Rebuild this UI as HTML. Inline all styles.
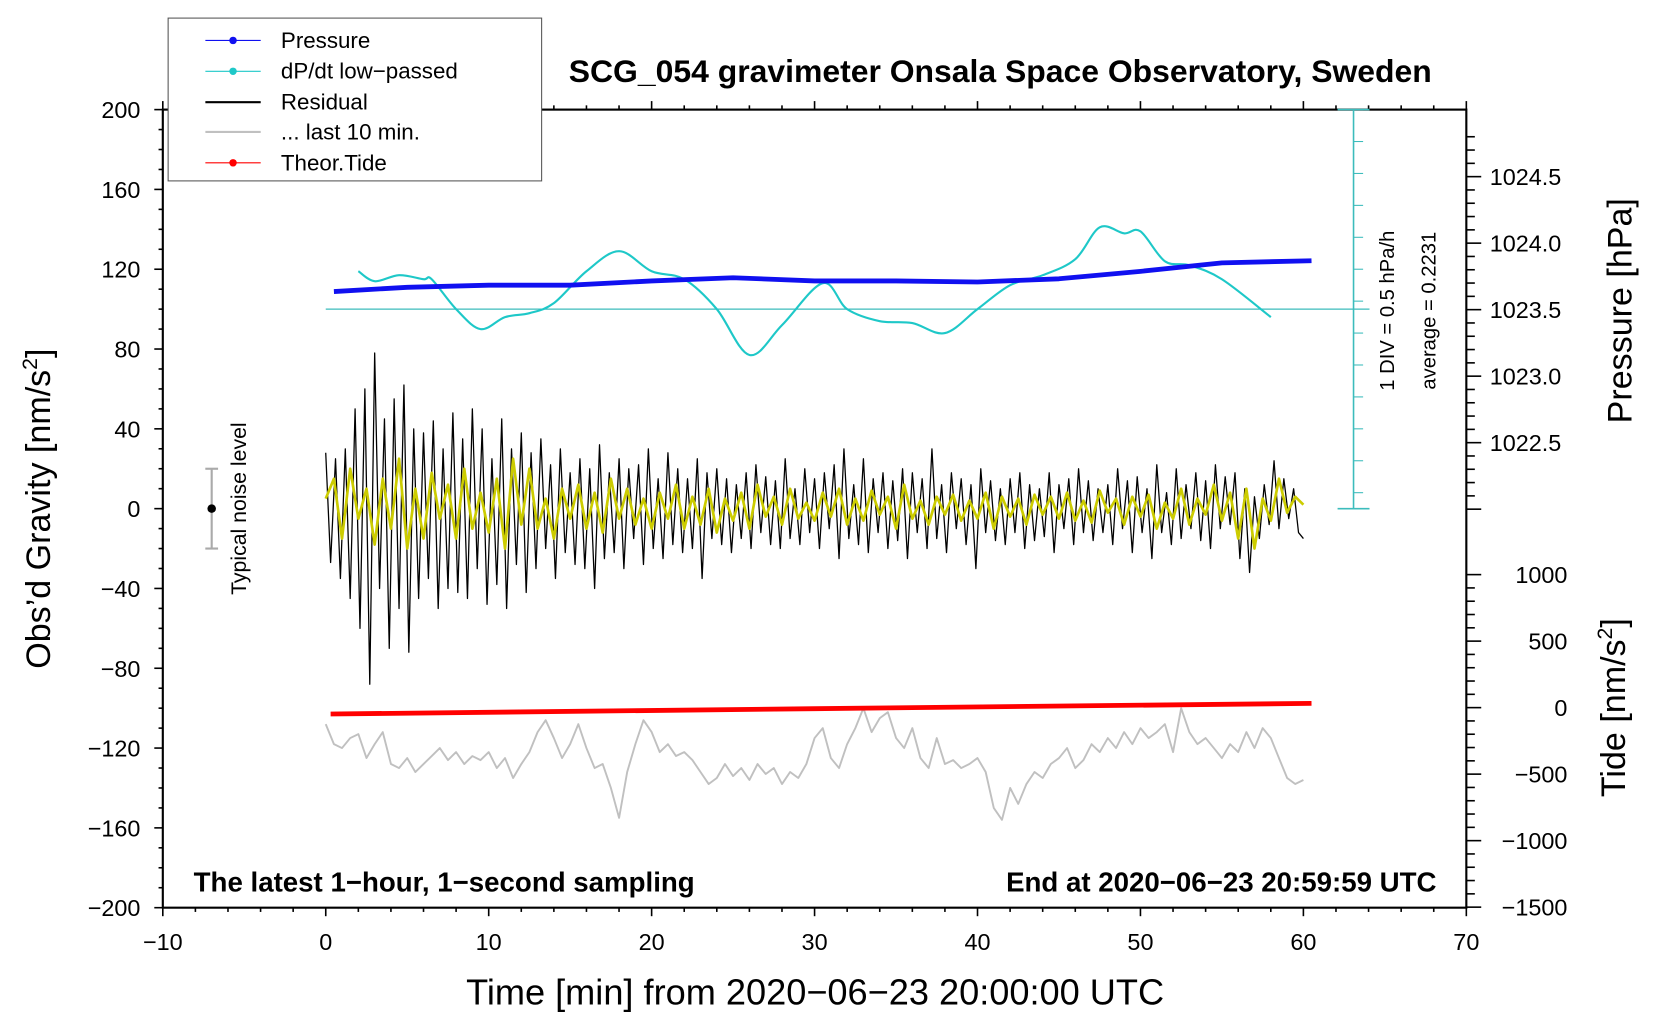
<!DOCTYPE html>
<html><head><meta charset="utf-8"><style>
html,body{margin:0;padding:0;background:#fff}
svg{display:block;font-family:"Liberation Sans",sans-serif}
</style></head><body>
<svg id="chart" width="1660" height="1020" viewBox="0 0 1560 958.55" xmlns="http://www.w3.org/2000/svg">
<g id="axes"></g>
<g id="marks"></g>
</svg>
<script>
// ---- data ----
const xTicks=[-10,0,10,20,30,40,50,60,70];
const gTicks=[200,160,120,80,40,0,-40,-80,-120,-160,-200];
const pTicks=[1024.5,1024.0,1023.5,1023.0,1022.5];
const tTicks=[1000,500,0,-500,-1000,-1500];
const residual=[28,-27,25,-35,30,-45,50,-60,60,-88,78,-40,45,-70,55,-50,62,-72,40,-45,
38,-35,44,-50,30,-40,48,-42,35,-45,50,-30,40,-48,25,-38,45,-50,30,-28,
38,-42,28,-30,35,-20,22,-35,30,-22,18,-28,25,-30,20,-40,32,-25,18,-22,
25,-30,20,-15,22,-28,30,-20,15,-25,28,-18,20,-22,15,-20,25,-35,18,-15,
20,-18,15,-22,12,-15,18,-20,22,-12,16,-18,14,-20,25,-15,10,-18,20,-12,
15,-20,18,-10,22,-25,30,-15,12,-18,25,-22,15,-12,18,-20,14,-16,20,-25,
18,-12,15,-20,30,-15,12,-22,18,-10,15,-18,12,-30,20,-12,14,-16,10,-18,
15,-12,18,-20,12,-16,10,-14,18,-22,12,-10,15,-18,20,-12,14,-16,10,-12,
12,-18,20,-10,14,-22,16,-12,10,-25,22,-12,8,-18,20,-15,12,-10,18,-16,
14,-20,22,-10,16,-8,18,-25,10,-32,6,-15,12,-8,24,-10,15,-5,10,-12,-15];
const resStep=0.3;
const filtered=[5,15,-15,20,-5,10,-18,15,-10,25,-20,10,-15,18,-5,12,-15,20,-10,8,
-12,15,-20,25,-8,20,-10,5,-15,10,-5,12,-10,8,-12,15,-5,10,-8,5,
-10,8,-5,12,-10,6,-8,10,-12,5,-6,8,-10,12,-4,6,-8,10,-5,3,
-6,8,-4,10,-8,5,-6,9,-3,6,-10,12,-5,4,-8,6,-3,7,-6,4,
-5,8,-10,6,-4,5,-8,7,-3,6,-5,8,-6,4,-7,9,-2,5,-8,6,
-4,7,-10,3,-5,10,-8,5,-3,12,-6,8,-15,10,-20,5,-6,15,-2,6,2];
const filtStep=0.5;
const last10=[-108,-118,-120,-115,-113,-125,-118,-112,-128,-130,-125,-132,-128,-124,-120,-126,-122,-128,-124,-126,
-122,-130,-125,-135,-128,-122,-112,-106,-115,-125,-118,-108,-120,-130,-128,-140,-155,-132,-118,-106,
-112,-122,-118,-124,-122,-126,-132,-138,-135,-128,-134,-130,-136,-128,-133,-130,-138,-132,-135,-128,
-115,-110,-125,-130,-118,-110,-100,-112,-105,-102,-115,-120,-110,-125,-130,-115,-128,-126,-130,-128,
-125,-132,-150,-156,-140,-148,-138,-132,-135,-128,-125,-120,-130,-126,-118,-122,-115,-120,-112,-118,
-110,-115,-112,-108,-122,-100,-112,-118,-115,-120,-125,-118,-122,-112,-120,-110,-115,-125,-135,-138,-136];
const last10Step=0.5;
const dpTimes=[2,3,4.5,6,6.5,8,9.5,11,12.5,14,16,18,20,22,24,26,28,30.5,32,34,36,38,40,42,44,46,47.5,49,50,51.5,53,55,58];
const dpValues=[119,114,117,115,115,100,90,96,98,103,119,129,119,115,100,77,92,113,100,94,93,88,100,112,117,125,141,138,139,124,122,115,96];
const dpAverage=100;
const pTimes=[0.5,5,10,15,20,25,30,35,40,45,50,55,60.5];
const pValues=[1023.636,1023.668,1023.684,1023.684,1023.716,1023.74,1023.716,1023.716,1023.708,1023.732,1023.788,1023.852,1023.868];
const tideTimes=[0.3,30,60.5];
const tideValues=[-48,-8,32];
// ---- scales ----
const L=153,R=1378,T=103,B=853;
const X=v=>L+(v+10)/80*(R-L);
const G=v=>T+(200-v)/400*(B-T);
const P=v=>166+(1024.5-v)*125;
const TD=v=>665-v*0.125;
const NS="http://www.w3.org/2000/svg";
const axes=document.getElementById('axes'), marks=document.getElementById('marks');
function mk(tag,attrs,parent,txt){const e=document.createElementNS(NS,tag);for(const k in attrs)e.setAttribute(k,attrs[k]);if(txt!==undefined)e.textContent=txt;parent.appendChild(e);return e;}
function poly(pts,color,w,name){const e=mk('polyline',{points:pts.map(p=>p[0].toFixed(1)+','+p[1].toFixed(1)).join(' '),fill:'none',stroke:color,'stroke-width':w,'stroke-linejoin':'round'},marks);

return e;}
function smooth(pts,color,w,name){let d='M'+pts[0][0]+','+pts[0][1];
for(let i=0;i<pts.length-1;i++){const p0=pts[Math.max(0,i-1)],p1=pts[i],p2=pts[i+1],p3=pts[Math.min(pts.length-1,i+2)];
const c1=[p1[0]+(p2[0]-p0[0])/6,p1[1]+(p2[1]-p0[1])/6],c2=[p2[0]-(p3[0]-p1[0])/6,p2[1]-(p3[1]-p1[1])/6];
d+=' C'+c1[0].toFixed(1)+','+c1[1].toFixed(1)+' '+c2[0].toFixed(1)+','+c2[1].toFixed(1)+' '+p2[0].toFixed(1)+','+p2[1].toFixed(1);}
const e=mk('path',{d:d,fill:'none',stroke:color,'stroke-width':w},marks);

return e;}
// frame
const fr=mk('rect',{x:L,y:T,width:R-L,height:B-T,fill:'none',stroke:'#000','stroke-width':2},axes);


for(let v=-10;v<=70;v+=2){const major=v%10===0;mk('line',{x1:X(v),x2:X(v),y1:B,y2:B+(major?8:4),stroke:'#000','stroke-width':1.5},axes);mk('line',{x1:X(v),x2:X(v),y1:T,y2:T-(major?8:4),stroke:'#000','stroke-width':1.5},axes);}
xTicks.forEach(v=>{const t=mk('text',{x:X(v),y:893,'font-size':22,'text-anchor':'middle'},axes,String(v).replace('-','\u2212'));

});
for(let v=-200;v<=200;v+=10){const major=v%40===0;mk('line',{x1:L,x2:L-(major?8:4),y1:G(v),y2:G(v),stroke:'#000','stroke-width':1.5},axes);}
gTicks.forEach(v=>{const t=mk('text',{x:132,y:G(v)+8,'font-size':22,'text-anchor':'end'},axes,String(v).replace('-','\u2212'));

});
for(let v=1022.0;v<=1024.81;v+=0.1){const major=Math.abs(v*2-Math.round(v*2))<0.01;mk('line',{x1:R,x2:R+(major?14:8),y1:P(v),y2:P(v),stroke:'#000','stroke-width':1.5},axes);}
for(let v=-1500;v<=1000;v+=100){const major=v%500===0;mk('line',{x1:R,x2:R+(major?14:8),y1:TD(v),y2:TD(v),stroke:'#000','stroke-width':1.5},axes);}
pTicks.forEach(v=>{const t=mk('text',{x:1400,y:P(v)+8,'font-size':22},axes,v.toFixed(1));

});
tTicks.forEach(v=>{const t=mk('text',{x:1473,y:TD(v)+8,'font-size':22,'text-anchor':'end'},axes,String(v).replace('-','\u2212'));

});
mk('line',{x1:1272,x2:1272,y1:T,y2:478,stroke:'#3cbcbc','stroke-width':1.5},axes);
for(let i=0;i<=12;i++){const y=T+i*(375/12.5);mk('line',{x1:1272,x2:1281,y1:y,y2:y,stroke:'#3cbcbc','stroke-width':1},axes);}
mk('line',{x1:1257,x2:1287,y1:478,y2:478,stroke:'#3cbcbc','stroke-width':1.5},axes);
mk('line',{x1:1257,x2:1287,y1:T,y2:T,stroke:'#3cbcbc','stroke-width':1.5},axes);
const avg=mk('line',{x1:X(0),x2:1287,y1:G(dpAverage),y2:G(dpAverage),stroke:'#3cbcbc','stroke-width':1.2},marks);


mk('line',{x1:X(-7),x2:X(-7),y1:G(20),y2:G(-20),stroke:'#aaa','stroke-width':2},marks);
mk('line',{x1:X(-7)-6,x2:X(-7)+6,y1:G(20),y2:G(20),stroke:'#aaa','stroke-width':2},marks);
mk('line',{x1:X(-7)-6,x2:X(-7)+6,y1:G(-20),y2:G(-20),stroke:'#aaa','stroke-width':2},marks);
mk('circle',{cx:X(-7),cy:G(0),r:4,fill:'#000'},marks);
poly(last10.map((v,i)=>[X(i*last10Step),G(v)]),'#c0c0c0',1.8,'last-10-min-line');
poly(residual.map((v,i)=>[X(i*resStep),G(v)]),'#000',1.2,'residual-line');
poly(filtered.map((v,i)=>[X(i*filtStep),G(v)]),'#cccc00',2.5,'filtered-residual-line');
smooth(dpTimes.map((t,i)=>[X(t),G(dpValues[i])]),'#1ec8c8',2,'dpdt-line');
poly(pTimes.map((t,i)=>[X(t),P(pValues[i])]),'#1010f0',4.5,'pressure-line');
poly(tideTimes.map((t,i)=>[X(t),TD(tideValues[i])]),'#ff0000',4.5,'tide-line');
</script>
<svg style="position:absolute;left:0;top:0" width="1660" height="1020" viewBox="0 0 1560 958.55" xmlns="http://www.w3.org/2000/svg" font-family="Liberation Sans, sans-serif">
<text x="940" y="77" font-size="30" font-weight="bold" text-anchor="middle">SCG_054 gravimeter Onsala Space Observatory, Sweden</text>
<g>
<rect x="158" y="17" width="351" height="153" fill="#fff" stroke="#555" stroke-width="1"/>
<line x1="193" x2="245" y1="38" y2="38" stroke="#1010f0"/><circle cx="219" cy="38" r="3.5" fill="#1010f0"/>
<text x="264" y="45" font-size="21">Pressure</text>
<line x1="193" x2="245" y1="67" y2="67" stroke="#1ec8c8"/><circle cx="219" cy="67" r="3.5" fill="#1ec8c8"/>
<text x="264" y="74" font-size="21">dP/dt low&#8722;passed</text>
<line x1="193" x2="245" y1="96" y2="96" stroke="#000" stroke-width="2"/>
<text x="264" y="103" font-size="21">Residual</text>
<line x1="193" x2="245" y1="124" y2="124" stroke="#c0c0c0" stroke-width="2"/>
<text x="264" y="131" font-size="21">... last 10 min.</text>
<line x1="193" x2="245" y1="153" y2="153" stroke="#f00"/><circle cx="219" cy="153" r="3.5" fill="#f00"/>
<text x="264" y="160" font-size="21">Theor.Tide</text>
</g>
<text x="766" y="944" font-size="34" text-anchor="middle">Time [min] from 2020&#8722;06&#8722;23 20:00:00 UTC</text>
<text transform="translate(47,478) rotate(-90)" font-size="32" text-anchor="middle">Obs’d Gravity [nm/s<tspan font-size="20" dy="-12">2</tspan><tspan dy="12">]</tspan></text>
<text transform="translate(1533,292) rotate(-90)" font-size="32" text-anchor="middle">Pressure [hPa]</text>
<text transform="translate(1527,665) rotate(-90)" font-size="32" text-anchor="middle">Tide [nm/s<tspan font-size="20" dy="-12">2</tspan><tspan dy="12">]</tspan></text>
<text transform="translate(231,478) rotate(-90)" font-size="20" text-anchor="middle">Typical noise level</text>
<text transform="translate(1310,292) rotate(-90)" font-size="19" text-anchor="middle">1 DIV = 0.5 hPa/h</text>
<text transform="translate(1349,292) rotate(-90)" font-size="19" text-anchor="middle">average = 0.2231</text>
<text x="182" y="838" font-size="26" font-weight="bold">The latest 1&#8722;hour, 1&#8722;second sampling</text>
<text x="1350" y="838" font-size="26" font-weight="bold" text-anchor="end">End at 2020&#8722;06&#8722;23 20:59:59 UTC</text>
</svg>
</body></html>
